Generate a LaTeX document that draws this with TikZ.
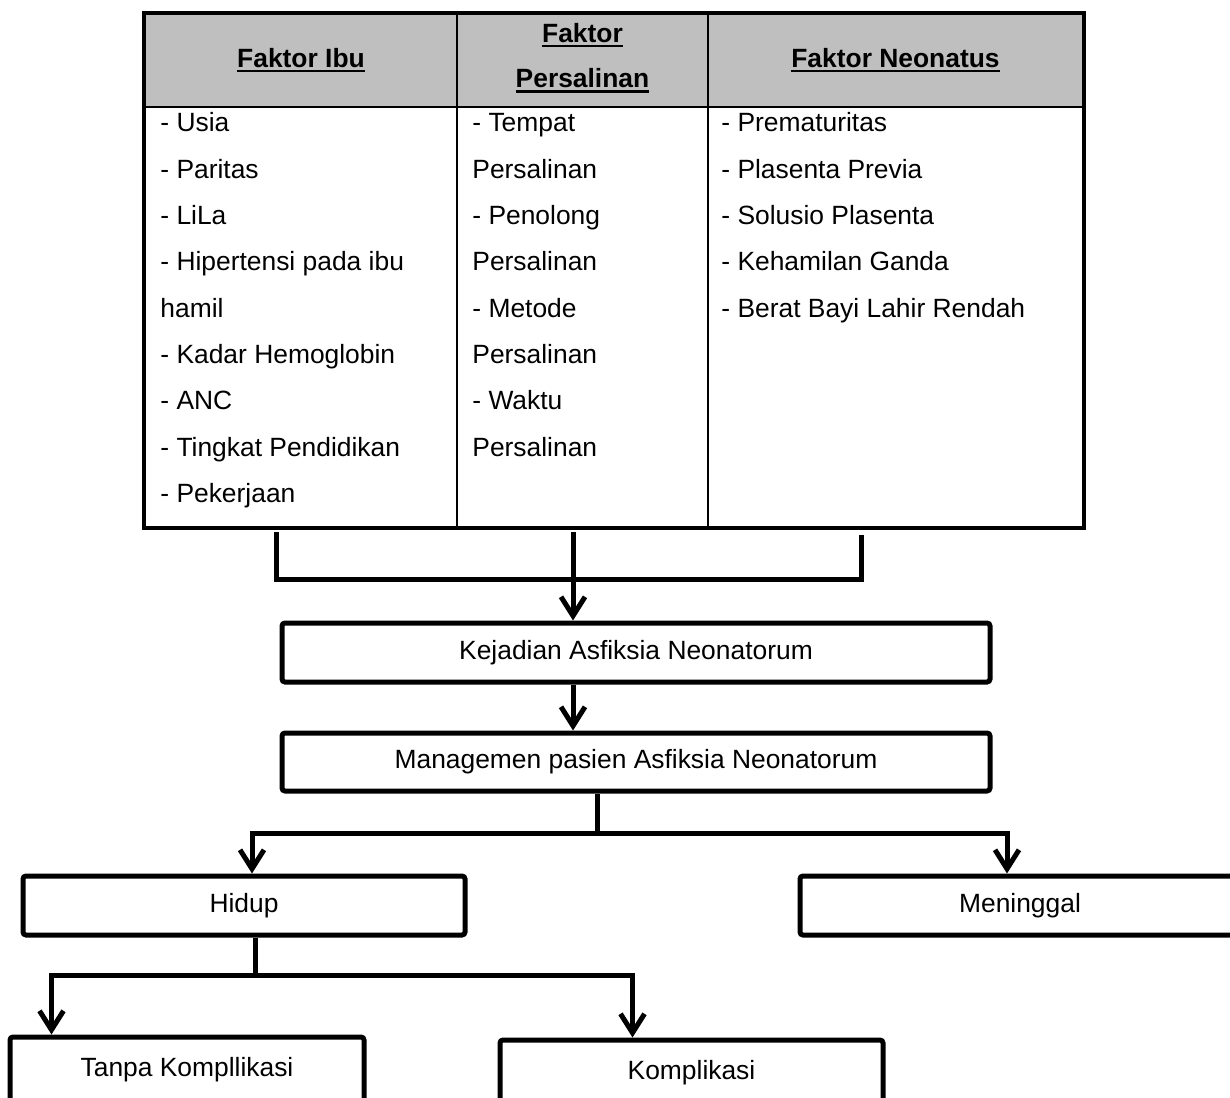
\documentclass[tikz,border=0pt]{standalone}
\usepackage{fontspec}
\setmainfont{Liberation Sans}
\usetikzlibrary{arrows.meta,calc}
\definecolor{headgray}{HTML}{BFBFBF}
\newcommand\myfont{\fontsize{13.2}{23.15}\selectfont}
\newcommand\myhfont{\fontsize{13.2}{22.7}\selectfont\bfseries}
\newcommand\myul[1]{\setbox0=\hbox{#1}\rlap{\rule[-2.4pt]{\wd0}{1.1pt}}\box0}
\begin{document}
\begin{tikzpicture}[x=0.5pt,y=-0.5pt,
  hcell/.style={draw, line width=1.3pt, fill=headgray, inner sep=0, font=\myhfont, align=center},
  bcell/.style={draw, line width=1.3pt, inner sep=0},
  item/.style={anchor=base west, inner sep=0, font=\myfont},
  box/.style={draw, line width=2.5pt, rounded corners=1.5pt, inner sep=0, font=\myfont, fill=white},
  conn/.style={line width=2.5pt},
  arr/.style={conn, -{Straight Barb[length=9.5pt,width=12pt]}}]
\useasboundingbox (0,0) rectangle (1230,1097);
% table
\node[hcell, minimum width=156pt, minimum height=46.5pt] (h1) at (301,60.5) {\myul{Faktor Ibu}};
\node[hcell, minimum width=125.5pt, minimum height=46.5pt, text depth=5pt] (h2) at (582.5,60.5) {\myul{Faktor}\\\myul{Persalinan}};
\node[hcell, minimum width=187.5pt, minimum height=46.5pt] (h3) at (895.5,60.5) {\myul{Faktor Neonatus}};
\node[bcell, minimum width=156pt, minimum height=210pt] (b1) at (301,317) {};
\node[bcell, minimum width=125.5pt, minimum height=210pt] (b2) at (582.5,317) {};
\node[bcell, minimum width=187.5pt, minimum height=210pt] (b3) at (895.5,317) {};
\draw[line width=1.6pt] (h1.north west) rectangle (b3.south east);
\foreach \t [count=\i] in {- Usia, - Paritas, - LiLa, - Hipertensi pada ibu, hamil, - Kadar Hemoglobin, - ANC, - Tingkat Pendidikan, - Pekerjaan}
  \node[item] (ia\i) at (160,{132+46.3*(\i-1)}) {\t};
\foreach \t [count=\i] in {- Tempat, Persalinan, - Penolong, Persalinan, - Metode, Persalinan, - Waktu, Persalinan}
  \node[item] (ib\i) at (472,{132+46.3*(\i-1)}) {\t};
\foreach \t [count=\i] in {- Prematuritas, - Plasenta Previa, - Solusio Plasenta, - Kehamilan Ganda, - Berat Bayi Lahir Rendah}
  \node[item] (ic\i) at (721,{132+46.3*(\i-1)}) {\t};
% boxes
\node[box, minimum width=354pt, minimum height=29.5pt] (k) at (636,652.5) {Kejadian Asfiksia Neonatorum};
\node[box, minimum width=354pt, minimum height=29pt] (m) at (636,762) {Managemen pasien Asfiksia Neonatorum};
\node[box, minimum width=221pt, minimum height=29.5pt] (h) at (244,905.5) {Hidup};
\node[box, minimum width=220pt, minimum height=29.5pt] (g) at (1020,905.5) {Meninggal};
\node[box, minimum width=177pt, minimum height=33pt] (tk) at (187,1070) {Tanpa Kompllikasi};
\node[box, minimum width=191.5pt, minimum height=33pt] (kp) at (691.5,1073) {Komplikasi};
% connectors
\coordinate (t1) at (276,532);
\coordinate (t2) at (573,532);
\coordinate (t3) at (861,535);
\coordinate (jL) at (276,579);
\coordinate (jR) at (861,579);
\draw[conn] (t1) -- (jL) -- (jR) -- (t3);
\draw[arr] (t2) -- (t2 |- k.north);
\draw[arr] (k.south -| t2) -- (m.north -| t2);
\coordinate (j2) at (597,833);
\draw[conn] (m.south -| j2) -- (j2);
\draw[arr] (j2) -| ($(h.north)+(8,0)$);
\draw[arr] (j2) -| ($(g.north)+(-13,0)$);
\coordinate (j3) at (255,975);
\draw[conn] (h.south -| j3) -- (j3);
\draw[arr] (j3) -| ($(tk.north west)+(44,0)$);
\draw[arr] (j3) -| ($(kp.north west)+(135,0)$);
\end{tikzpicture}
\end{document}
